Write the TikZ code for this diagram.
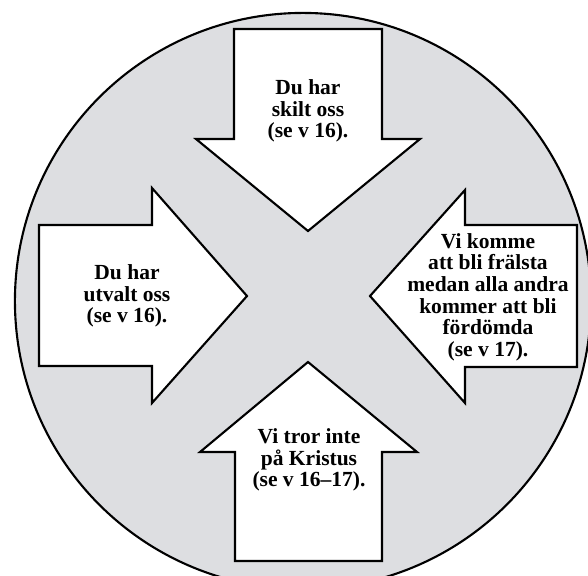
\documentclass[tikz,border=0pt]{standalone}
\usepackage{fontspec}
\setmainfont{Liberation Serif}
\definecolor{discgray}{RGB}{221,222,225}
\tikzset{
  pil/.style={draw=black, line width=1.5pt, fill=white, line join=miter},
  txt/.style={font=\fontsize{15.3}{15.4}\selectfont\bfseries, align=center, inner sep=0pt}
}
\begin{document}
\begin{tikzpicture}[x=0.025cm, y=-0.025cm]
  \useasboundingbox (0,0) rectangle (588,575);
  \clip (0,0) rectangle (588,575);
  \draw[fill=discgray, line width=1.5pt] (303,301) circle [radius=7.2cm];
  \draw[pil] (234,29) -- (382,29) -- (382,139) -- (420,139) -- (308,231) -- (196,139) -- (234,139) -- cycle;
  \draw[pil] (39,225) -- (152,225) -- (152,188) -- (247,296) -- (152,403) -- (152,366) -- (39,366) -- cycle;
  \draw[pil] (577,225) -- (465,225) -- (465,190) -- (370,296) -- (465,403) -- (465,367) -- (577,367) -- cycle;
  \draw[pil] (235,561) -- (382,561) -- (382,452) -- (417,452) -- (308,362) -- (200,452) -- (235,452) -- cycle;
  \node[txt] (skilt)   at (308,111) {Du har\\skilt oss\\(se v 16).};
  \node[txt] (utvalt)  at (127,296) {Du har\\utvalt oss\\(se v 16).};
  \node[txt] (fralsta) at (488,297) {Vi komme\\att bli frälsta\\medan alla andra\\kommer att bli\\fördömda\\(se v 17).};
  \node[txt] (tror)    at (309,460) {Vi tror inte\\på Kristus\\(se v 16–17).};
\end{tikzpicture}
\end{document}
